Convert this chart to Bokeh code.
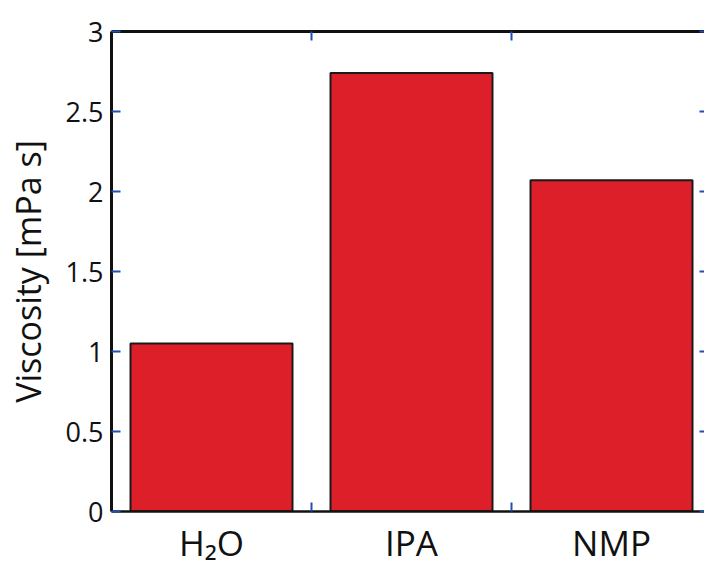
from bokeh.plotting import figure
from bokeh.models import Range1d, FixedTicker, LinearAxis, NumeralTickFormatter, ColumnDataSource
from bokeh.embed import file_html
from bokeh.resources import INLINE

solvents = ["H\u2082O", "IPA", "NMP"]
viscosity = [1.05, 2.74, 2.07]
y_ticks = [0, 0.5, 1, 1.5, 2, 2.5, 3]

xpos = list(range(len(solvents)))
src = ColumnDataSource(dict(x=xpos, top=viscosity))

FONT = "Open Sans"
TICK_BLUE = "#1f4fb5"

p = figure(width=704, height=568, output_backend="svg", toolbar_location=None,
           x_range=Range1d(-0.5, 2.465), y_range=Range1d(0, 3),
           min_border_left=111, min_border_right=0, min_border_top=31, min_border_bottom=0,
           x_axis_location=None, y_axis_location=None)
p.outline_line_color = None
p.grid.visible = False
p.background_fill_color = "white"
p.border_fill_color = "white"

p.vbar(x="x", top="top", width=0.81, source=src, fill_color="#dc1f28",
       line_color="#1a1a1a", line_width=2)

xt = FixedTicker(ticks=xpos, minor_ticks=[0.5, 1.5])
yt = FixedTicker(ticks=y_ticks, minor_ticks=[])

# bottom
bx = LinearAxis(ticker=xt, major_label_overrides={i: s for i, s in enumerate(solvents)})
bx.major_tick_in = 0
bx.major_tick_out = 0
bx.minor_tick_in = 9
bx.minor_tick_out = 0
bx.minor_tick_line_color = TICK_BLUE
bx.minor_tick_line_width = 2
bx.axis_line_color = "#111111"
bx.axis_line_width = 2.5
bx.major_label_text_font = FONT
bx.major_label_text_font_size = "35px"
bx.major_label_text_color = "#111111"
bx.major_label_standoff = 7
p.add_layout(bx, "below")

# top
tx = LinearAxis(ticker=xt, major_label_overrides={i: "" for i in xpos})
tx.major_tick_in = 0
tx.major_tick_out = 0
tx.minor_tick_in = 9
tx.minor_tick_out = 0
tx.minor_tick_line_color = TICK_BLUE
tx.minor_tick_line_width = 2
tx.axis_line_color = "#111111"
tx.axis_line_width = 3
tx.major_label_standoff = 0
p.add_layout(tx, "above")

# left
ly = LinearAxis(ticker=yt, formatter=NumeralTickFormatter(format="0.[0]"),
                axis_label="Viscosity [mPa s]")
ly.major_tick_in = 9
ly.major_tick_out = 0
ly.minor_tick_in = 0
ly.minor_tick_out = 0
ly.major_tick_line_color = TICK_BLUE
ly.major_tick_line_width = 2
ly.axis_line_color = "#111111"
ly.axis_line_width = 3
ly.major_label_text_font = FONT
ly.major_label_text_font_size = "27px"
ly.major_label_text_color = "#111111"
ly.major_label_standoff = 8
ly.axis_label_text_font = FONT
ly.axis_label_text_font_size = "34px"
ly.axis_label_text_font_style = "normal"
ly.axis_label_text_color = "#111111"
ly.axis_label_standoff = 12
p.add_layout(ly, "left")

# right
ry = LinearAxis(ticker=yt, major_label_overrides={v: "" for v in y_ticks})
ry.major_tick_in = 5
ry.major_tick_out = 0
ry.minor_tick_in = 0
ry.minor_tick_out = 0
ry.major_tick_line_color = TICK_BLUE
ry.major_tick_line_width = 2
ry.axis_line_color = None
ry.major_label_standoff = 0
p.add_layout(ry, "right")

open("out.html", "w").write(file_html(p, INLINE))
